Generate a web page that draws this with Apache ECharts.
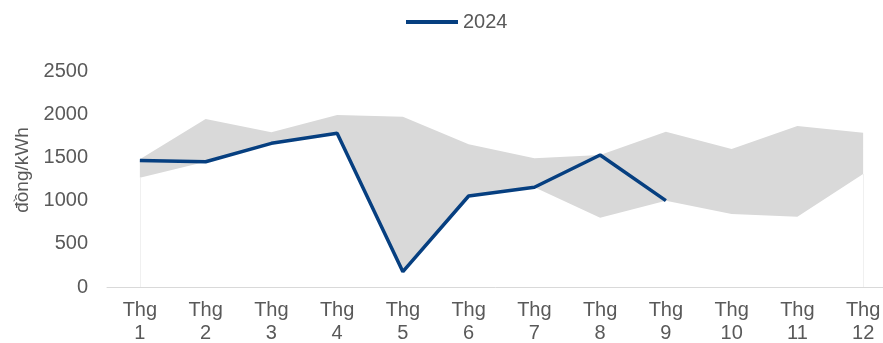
<!DOCTYPE html>
<html>
<head>
<meta charset="utf-8">
<script src="https://cdn.jsdelivr.net/npm/echarts@6/dist/echarts.min.js"></script>
<style>html,body{margin:0;padding:0;background:#fff}#c{width:883px;height:343px}</style>
</head>
<body>
<div id="c"></div>
<script>
var categories = ['Thg\n1','Thg\n2','Thg\n3','Thg\n4','Thg\n5','Thg\n6','Thg\n7','Thg\n8','Thg\n9','Thg\n10','Thg\n11','Thg\n12'];
var line2024 = [1465, 1450, 1663, 1779, 177, 1053, 1154, 1528, 999, null, null, null];
var bandUpper = [1480, 1944, 1790, 1991, 1971, 1651, 1489, 1528, 1798, 1597, 1863, 1786];
var bandLower = [1265, 1450, 1663, 1779, 177, 1053, 1154, 802, 999, 845, 814, 1308];
var yTicks = [0, 500, 1000, 1500, 2000, 2500];

var bandDiff = bandUpper.map(function(u, i){ return u - bandLower[i]; });
var last = categories.length - 1;
var txt = '#595959';
var font = '"Liberation Sans", Arial, sans-serif';

var chart = echarts.init(document.getElementById('c'), null, {renderer:'canvas'});
chart.setOption({
  animation: false,
  textStyle: {fontFamily: font},
  legend: {
    data: ['2024'],
    top: 7,
    left: 401,
    icon: 'rect',
    itemWidth: 52,
    itemHeight: 4,
    itemGap: 10,
    textStyle: {color: txt, fontSize: 20, fontFamily: font}
  },
  grid: {left: 107, top: 71, width: 789, bottom: 56, containLabel: false, outerBoundsMode: 'none'},
  xAxis: {
    type: 'category',
    data: categories,
    boundaryGap: true,
    axisLine: {show: true, lineStyle: {color: '#d9d9d9', width: 1}},
    axisTick: {show: false},
    axisLabel: {color: txt, fontSize: 20, lineHeight: 23, margin: 12, interval: 0, fontFamily: font}
  },
  yAxis: {
    type: 'value',
    min: yTicks[0],
    max: yTicks[yTicks.length - 1],
    interval: 500,
    name: 'đồng/kWh',
    nameLocation: 'middle',
    nameGap: 73,
    nameRotate: 90,
    nameTextStyle: {color: txt, fontSize: 19, fontFamily: font, padding: [0,0,0,18]},
    axisLine: {show: false},
    axisTick: {show: false},
    splitLine: {show: false},
    axisLabel: {color: txt, fontSize: 20, margin: 19, fontFamily: font, formatter: function(v){ return String(v); }}
  },
  series: [
    {
      name: 'lower',
      type: 'line',
      stack: 'band',
      data: bandLower,
      symbol: 'none',
      lineStyle: {width: 0, opacity: 0},
      areaStyle: {color: '#ffffff', opacity: 0},
      silent: true,
      z: 1,
      markLine: {
        silent: true,
        symbol: 'none',
        label: {show: false},
        lineStyle: {color: '#f0f0f0', width: 1, type: 'solid'},
        data: [
          [{coord: [0, 0]}, {coord: [0, bandLower[0]]}],
          [{coord: [last, 0]}, {coord: [last, bandLower[last]]}]
        ]
      }
    },
    {
      name: 'range',
      type: 'line',
      stack: 'band',
      data: bandDiff,
      symbol: 'none',
      lineStyle: {width: 0, opacity: 0},
      areaStyle: {color: '#d9d9d9', opacity: 1},
      silent: true,
      z: 1
    },
    {
      name: '2024',
      type: 'line',
      data: line2024,
      symbol: 'none',
      connectNulls: false,
      lineStyle: {color: '#063f80', width: 3.5},
      itemStyle: {color: '#063f80'},
      z: 3
    }
  ]
});
</script>
</body>
</html>
